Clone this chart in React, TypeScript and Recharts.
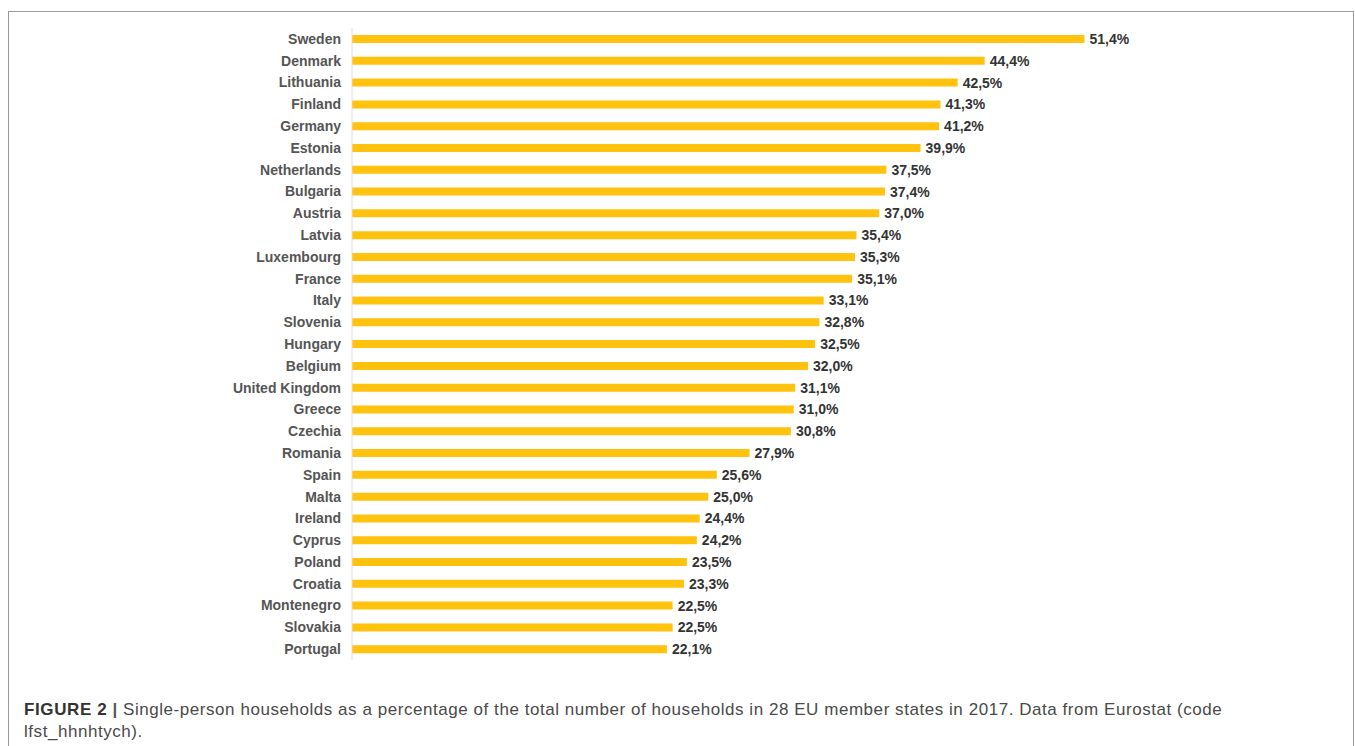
import React from 'react';
import { BarChart, Bar, XAxis, YAxis, LabelList } from 'recharts';

const countries = [
  'Sweden', 'Denmark', 'Lithuania', 'Finland', 'Germany', 'Estonia', 'Netherlands',
  'Bulgaria', 'Austria', 'Latvia', 'Luxembourg', 'France', 'Italy', 'Slovenia',
  'Hungary', 'Belgium', 'United Kingdom', 'Greece', 'Czechia', 'Romania', 'Spain',
  'Malta', 'Ireland', 'Cyprus', 'Poland', 'Croatia', 'Montenegro', 'Slovakia', 'Portugal',
];

const shares = [
  51.4, 44.4, 42.5, 41.3, 41.2, 39.9, 37.5,
  37.4, 37.0, 35.4, 35.3, 35.1, 33.1, 32.8,
  32.5, 32.0, 31.1, 31.0, 30.8, 27.9, 25.6,
  25.0, 24.4, 24.2, 23.5, 23.3, 22.5, 22.5, 22.1,
];

const data = countries.map((name, i) => ({ name, value: shares[i] }));

const font = '"Liberation Sans", Arial, Helvetica, sans-serif';

const fmt = (v: number) => `${v.toFixed(1).replace('.', ',')}%`;

const App = () => {
  return (
    <div style={{ position: 'fixed', left: 0, top: 0, width: 1355, height: 746, overflow: 'hidden', background: '#fff' }}>
      {/* figure frame */}
      <div
        style={{
          position: 'absolute', left: 8, top: 11, width: 1346, height: 800,
          border: '1px solid #9a9a9a', boxSizing: 'border-box',
        }}
      />

      <div style={{ position: 'absolute', left: 0, top: 0 }}>
        <BarChart
          width={1355}
          height={690}
          data={data}
          layout="vertical"
          margin={{ top: 28, right: 148, bottom: 30, left: 0 }}
          barCategoryGap={0}
        >
          <XAxis type="number" domain={[0, 60]} hide />
          <YAxis
            type="category"
            dataKey="name"
            width={352}
            interval={0}
            tickLine={false}
            tickSize={0}
            tickMargin={11}
            axisLine={{ stroke: '#dedede' }}
            tick={{ fill: '#555', fontSize: 14, fontWeight: 'bold', fontFamily: font }}
          />
          <Bar dataKey="value" fill="#FFC20E" barSize={8} isAnimationActive={false}>
            <LabelList
              dataKey="value"
              position="right"
              offset={5}
              formatter={fmt}
              fill="#333"
              fontSize={14}
              fontWeight="bold"
              fontFamily={font}
            />
          </Bar>
        </BarChart>
      </div>

      {/* caption */}
      <div
        style={{
          position: 'absolute', left: 24, top: 699, width: 1320, whiteSpace: 'nowrap',
          fontFamily: font, fontSize: 17, letterSpacing: '0.55px', lineHeight: '22px', color: '#4a4a4a',
        }}
      >
        <span style={{ fontWeight: 'bold', color: '#333', letterSpacing: '0.6px' }}>FIGURE 2</span>
        <span style={{ fontWeight: 'bold', color: '#555' }}>{'  |  '}</span>
        Single-person households as a percentage of the total number of households in 28 EU member states in 2017. Data from Eurostat (code
        <br />
        lfst_hhnhtych).
      </div>
    </div>
  );
};

export default App;
